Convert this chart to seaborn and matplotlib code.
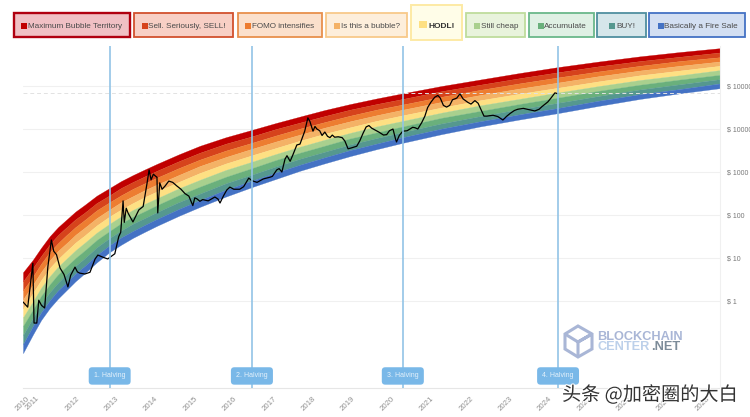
import matplotlib
matplotlib.use("Agg")
import matplotlib.pyplot as plt
import matplotlib.patheffects as pe
from matplotlib.patches import Rectangle, Polygon
import pandas as pd
import seaborn as sns

# rainbow band edges, log10(price in $)
band_years = [2010.75, 2011.0, 2011.21, 2011.43, 2011.64, 2011.86, 2012.08, 2012.32, 2012.62, 2012.95, 2013.24,
              2013.54, 2013.84, 2014.15, 2014.7, 2015.24, 2015.9, 2016.56, 2017.17, 2017.78, 2018.4, 2019.05,
              2019.72, 2020.39, 2021.37, 2022.35, 2023.34, 2024.33, 2025.37, 2026.41, 2027.42, 2028.44]
edge0 = [.67, .96, 1.24, 1.51, 1.72, 1.90, 2.08, 2.24, 2.45, 2.63, 2.79, 2.93, 3.06, 3.19, 3.41, 3.61,
         3.81, 3.98, 4.14, 4.29, 4.44, 4.58, 4.71, 4.83, 5.00, 5.15, 5.30, 5.44, 5.57, 5.69, 5.79, 5.88]
edge1 = [.46, .77, 1.05, 1.32, 1.54, 1.72, 1.90, 2.06, 2.28, 2.46, 2.63, 2.77, 2.90, 3.03, 3.25, 3.45,
         3.66, 3.83, 4.00, 4.15, 4.30, 4.45, 4.58, 4.70, 4.88, 5.03, 5.18, 5.32, 5.46, 5.58, 5.68, 5.78]
edge2 = [.25, .57, .87, 1.14, 1.35, 1.54, 1.72, 1.89, 2.11, 2.30, 2.46, 2.61, 2.74, 2.87, 3.09, 3.29,
         3.50, 3.68, 3.85, 4.01, 4.16, 4.31, 4.45, 4.57, 4.75, 4.91, 5.06, 5.20, 5.34, 5.47, 5.58, 5.67]
edge3 = [.04, .38, .68, .95, 1.17, 1.35, 1.54, 1.71, 1.93, 2.13, 2.30, 2.44, 2.58, 2.71, 2.93, 3.14,
         3.35, 3.54, 3.71, 3.87, 4.03, 4.18, 4.32, 4.45, 4.63, 4.79, 4.94, 5.08, 5.23, 5.36, 5.47, 5.57]
edge4 = [-.17, .19, .49, .77, .98, 1.17, 1.36, 1.53, 1.76, 1.97, 2.13, 2.28, 2.42, 2.55, 2.77, 2.98,
         3.20, 3.39, 3.56, 3.73, 3.89, 4.04, 4.19, 4.32, 4.50, 4.67, 4.82, 4.96, 5.11, 5.25, 5.36, 5.47]
edge5 = [-.38, -.01, .31, .58, .80, .99, 1.18, 1.36, 1.59, 1.80, 1.97, 2.12, 2.26, 2.39, 2.62, 2.82,
         3.05, 3.24, 3.42, 3.59, 3.75, 3.91, 4.06, 4.19, 4.38, 4.55, 4.70, 4.85, 5.00, 5.14, 5.25, 5.37]
edge6 = [-.58, -.20, .12, .39, .62, .81, 1.00, 1.18, 1.42, 1.63, 1.81, 1.96, 2.09, 2.23, 2.46, 2.66,
         2.89, 3.09, 3.28, 3.45, 3.61, 3.78, 3.92, 4.06, 4.26, 4.42, 4.58, 4.73, 4.89, 5.03, 5.15, 5.26]
edge7 = [-.79, -.39, -.07, .21, .43, .63, .82, 1.00, 1.25, 1.47, 1.64, 1.80, 1.93, 2.07, 2.30, 2.50,
         2.74, 2.94, 3.13, 3.31, 3.47, 3.64, 3.79, 3.93, 4.13, 4.30, 4.46, 4.61, 4.77, 4.92, 5.04, 5.16]
edge8 = [-1.00, -.58, -.26, .02, .25, .44, .64, .82, 1.07, 1.30, 1.48, 1.63, 1.77, 1.91, 2.14, 2.35,
         2.59, 2.80, 2.99, 3.17, 3.34, 3.51, 3.66, 3.81, 4.01, 4.18, 4.34, 4.49, 4.66, 4.81, 4.93, 5.06]
edge9 = [-1.21, -.78, -.44, -.16, .06, .26, .46, .65, .90, 1.14, 1.31, 1.47, 1.61, 1.75, 1.98, 2.19,
         2.43, 2.65, 2.84, 3.03, 3.20, 3.37, 3.53, 3.68, 3.88, 4.06, 4.22, 4.37, 4.54, 4.70, 4.83, 4.95]

# price line
btc_years = [2010.75, 2010.81, 2010.87, 2011.0, 2011.03, 2011.10, 2011.15, 2011.22, 2011.30, 2011.38,
             2011.47, 2011.53, 2011.60, 2011.69, 2011.79, 2011.89, 2011.96, 2012.07, 2012.13, 2012.19,
             2012.32, 2012.45, 2012.58, 2012.65, 2012.78, 2012.90, 2013.08, 2013.18, 2013.23, 2013.29,
             2013.32, 2013.37, 2013.42, 2013.54, 2013.69, 2013.80, 2013.90, 2013.95, 2014.0, 2014.06,
             2014.12, 2014.15, 2014.17, 2014.22, 2014.28, 2014.36, 2014.45, 2014.55, 2014.65, 2014.76,
             2014.86, 2014.96, 2015.06, 2015.11, 2015.16, 2015.24, 2015.31, 2015.45, 2015.62, 2015.70,
             2015.75, 2015.84, 2015.92, 2016.0, 2016.1, 2016.25, 2016.35, 2016.48, 2016.56, 2016.69,
             2016.85, 2017.02, 2017.08, 2017.19, 2017.25, 2017.32, 2017.40, 2017.45, 2017.53, 2017.60,
             2017.70, 2017.78, 2017.90, 2017.98, 2018.03, 2018.11, 2018.16, 2018.21, 2018.28, 2018.34,
             2018.41, 2018.48, 2018.54, 2018.60, 2018.66, 2018.75, 2018.85, 2018.92, 2019.0, 2019.08,
             2019.22, 2019.30, 2019.38, 2019.46, 2019.53, 2019.60, 2019.68, 2019.78, 2019.90, 2019.98,
             2020.05, 2020.14, 2020.21, 2020.23, 2020.3, 2020.39, 2020.5, 2020.64, 2020.70, 2020.77,
             2020.87, 2020.95, 2021.02, 2021.1, 2021.2, 2021.28, 2021.34, 2021.42, 2021.5, 2021.58,
             2021.65, 2021.76, 2021.84, 2021.92, 2022.04, 2022.12, 2022.22, 2022.3, 2022.35, 2022.45,
             2022.52, 2022.68, 2022.8, 2022.93, 2023.03, 2023.11, 2023.22, 2023.31, 2023.45, 2023.6,
             2023.74, 2023.85, 2023.92, 2024.07, 2024.15, 2024.25, 2024.33]
btc_log_price = [-.02, -.08, -.14, .88, -.51, -.51, .02, -.10, -.16, .79,
                 1.42, 1.16, 1.08, .77, .62, .33, .60, .79, .68, .65,
                 .63, .67, .98, 1.07, 1.02, .98, 1.10, 1.50, 1.60, 2.33,
                 1.83, 2.16, 2.04, 1.84, 2.12, 2.20, 2.75, 3.05, 2.82, 2.95,
                 2.90, 2.88, 2.05, 2.75, 2.60, 2.68, 2.79, 2.76, 2.68, 2.60,
                 2.50, 2.44, 2.22, 2.40, 2.38, 2.32, 2.36, 2.33, 2.42, 2.37,
                 2.28, 2.45, 2.58, 2.65, 2.60, 2.60, 2.66, 2.86, 2.80, 2.76,
                 2.84, 2.88, 2.90, 3.05, 3.08, 3.0, 3.30, 3.38, 3.25, 3.40,
                 3.63, 3.65, 3.95, 4.26, 4.18, 3.95, 4.06, 4.0, 3.96, 3.85,
                 3.93, 3.83, 3.80, 3.86, 3.81, 3.82, 3.80, 3.72, 3.54, 3.56,
                 3.60, 3.73, 3.90, 4.05, 4.08, 4.02, 3.98, 3.93, 3.86, 3.87,
                 3.96, 4.0, 3.75, 3.70, 3.85, 3.95, 3.96, 4.04, 4.03, 4.0,
                 4.15, 4.30, 4.50, 4.62, 4.74, 4.78, 4.72, 4.55, 4.51, 4.55,
                 4.68, 4.72, 4.82, 4.70, 4.62, 4.58, 4.66, 4.60, 4.50, 4.30,
                 4.30, 4.32, 4.29, 4.21, 4.30, 4.36, 4.43, 4.46, 4.48, 4.45,
                 4.42, 4.46, 4.52, 4.63, 4.72, 4.84, 4.82]

halving_years = [2012.95, 2016.56, 2020.39, 2024.33]
halving_labels = ["1. Halving", "2. Halving", "3. Halving", "4. Halving"]

tick_years = [2010.75] + list(range(2011, 2029))
tick_labels = [str(y) for y in range(2010, 2029)]
price_ticks = [0, 1, 2, 3, 4, 5]
price_labels = ["$ 1", "$ 10", "$ 100", "$ 1000", "$ 10000", "$ 100000"]
ath_log_price = 4.84

legend_labels = ["Maximum Bubble Territory", "Sell. Seriously, SELL!", "FOMO intensifies", "Is this a bubble?",
                 "HODL!", "Still cheap", "Accumulate", "BUY!", "Basically a Fire Sale"]
band_colors = ["#c00000", "#d6431c", "#ed7d31", "#f4b266", "#fee083", "#a9d08e", "#6ab07c", "#55988f", "#4472c4"]
legend_edges = ["#b00010", "#d2502e", "#e8904c", "#f8c98a", "#fdeaa5", "#bedc9c", "#6ab88a", "#4f8f9f", "#4472c4"]
legend_fills = ["#f0c0c4", "#f8cfc5", "#fbe0cc", "#fdeedb", "#fffde8", "#e8f3dc", "#dff0e4", "#d5e6ea", "#d3dff2"]

# legend button layout in pixels: left, right, square left, text left
legend_boxes = [(14, 130, 21, 28), (134, 233, 142, 148), (238, 322, 245, 252), (326, 407, 334, 341),
                (411, 462, 419, 429), (466, 525, 474, 481), (529, 594, 538, 544), (597, 646, 609, 616),
                (649, 745, 658, 664)]

W, H = 750, 417

sns.set_theme(style="white")
plt.rcParams["font.family"] = ["Liberation Sans", "Noto Sans CJK SC", "DejaVu Sans"]

fig = plt.figure(figsize=(W / 100, H / 100), dpi=100)
ax = fig.add_axes([23 / W, 1 - 388 / H, 697 / W, 342 / H])


def px_rect(x0, y0, x1, y1, **kw):
    fig.add_artist(Rectangle((x0 / W, 1 - y1 / H), (x1 - x0) / W, (y1 - y0) / H,
                             transform=fig.transFigure, **kw))


def px_text(x, y, s, **kw):
    return fig.text(x / W, 1 - y / H, s, **kw)


edges = [edge0, edge1, edge2, edge3, edge4, edge5, edge6, edge7, edge8, edge9]
for i, color in enumerate(band_colors):
    ax.fill_between(band_years, edges[i], edges[i + 1], color=color, linewidth=0.2, zorder=2)

for p in price_ticks:
    ax.axhline(p, color="#f0f0f0", lw=0.8, zorder=1)
ax.axhline(ath_log_price, color="#e2e2e2", lw=0.7, ls=(0, (4, 3)), zorder=3)

df = pd.DataFrame({"year": btc_years, "log_price": btc_log_price})
sns.lineplot(data=df, x="year", y="log_price", color="black", lw=0.9, estimator=None, sort=False, ax=ax, zorder=4)

for year, label in zip(halving_years, halving_labels):
    ax.axvline(year, color="#92c4e6", lw=1.2, zorder=5)
    ax.text(year, -1.74, label, color="#e4f1fb", fontsize=5.0, ha="center", va="center", zorder=6,
            bbox=dict(boxstyle="round,pad=0.75,rounding_size=0.5", fc="#79b8e8", ec="none"))

ax.set_xlim(2010.75, 2028.44)
ax.set_ylim(-2.02, 5.93)
ax.set_xticks(tick_years)
ax.set_xticklabels(tick_labels, rotation=45, ha="center", fontsize=5.6, color="#8f8f8f")
ax.set_yticks(price_ticks)
ax.set_yticklabels(price_labels, fontsize=5.0, color="#777777")
ax.yaxis.tick_right()
ax.tick_params(axis="both", length=0, pad=5)
ax.set_xlabel("")
ax.set_ylabel("")
sns.despine(ax=ax, left=True, top=True, right=False)
ax.spines["bottom"].set_color("#e6e6e6")
ax.spines["right"].set_color("#f0f0f0")
ax.spines["bottom"].set_linewidth(0.8)
ax.spines["right"].set_linewidth(0.8)

# legend buttons
for i, label in enumerate(legend_labels):
    left, right, sq, tx = legend_boxes[i]
    if label == "HODL!":
        px_rect(left, 5.5, right, 39.5, fc=legend_fills[i], ec=legend_edges[i], lw=1.4)
        px_rect(sq, 21, sq + 8, 28, fc=band_colors[i], ec="none")
        px_text(tx, 26, label, fontsize=6.0, fontweight="bold", color="#333333", va="center")
        px_rect(sq - 1, 29.6, 454, 30.4, fc="#444444", ec="none")
    else:
        lw = 1.7 if i == 0 else 1.3
        px_rect(left, 12.5, right, 36.5, fc=legend_fills[i], ec=legend_edges[i], lw=lw)
        px_rect(sq, 23, sq + 5.5, 29, fc=band_colors[i], ec="none")
        px_text(tx, 26, label, fontsize=5.9, color="#4a4a4a", va="center")

# watermark logo
logo = "#a9b6d6"
fig.add_artist(Polygon([(578 / W, 1 - 326 / H), (592 / W, 1 - 334 / H), (592 / W, 1 - 349 / H),
                        (578 / W, 1 - 357 / H), (565 / W, 1 - 349 / H), (565 / W, 1 - 334 / H)],
                       closed=True, fc="none", ec=logo, lw=2.2, transform=fig.transFigure))
fig.add_artist(Polygon([(565 / W, 1 - 334 / H), (578 / W, 1 - 342 / H), (592 / W, 1 - 334 / H),
                        (578 / W, 1 - 342 / H), (578 / W, 1 - 357 / H)],
                       closed=False, fc="none", ec=logo, lw=2.2, transform=fig.transFigure))
px_text(597, 337, "BLOCKCHAIN", fontsize=9.2, fontweight="bold", color="#a9b6d6", va="center")
px_text(597, 347.5, "CENTER", fontsize=9.2, fontweight="bold", color="#bcd0ea", va="center")
px_text(651, 347.5, ".NET", fontsize=9.2, fontweight="bold", color="#7d8c99", va="center")

wm = px_text(562, 395, "头条 @加密圈的大白", fontsize=13.8, color="#333333", va="center",
             family=["Noto Sans CJK SC", "DejaVu Sans"])
wm.set_path_effects([pe.withStroke(linewidth=1.6, foreground="white")])

fig.savefig("out.png", dpi=100, facecolor="white")
